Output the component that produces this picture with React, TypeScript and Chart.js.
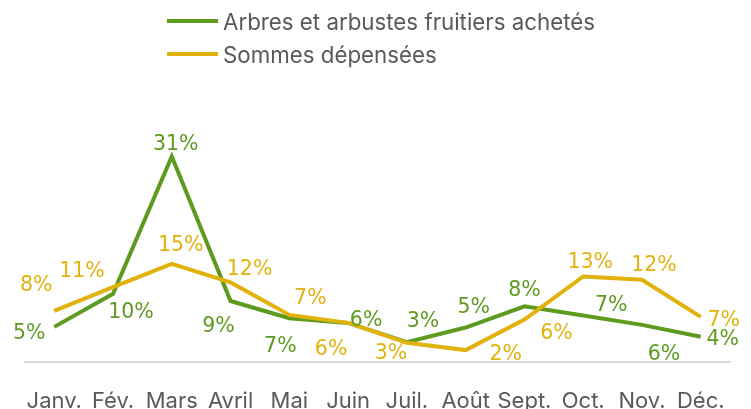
import React, { useEffect, useRef } from "react";
import { Chart, registerables } from "chart.js";

Chart.register(...registerables);

const months = ["Janv.", "Fév.", "Mars", "Avril", "Mai", "Juin", "Juil.", "Août", "Sept.", "Oct.", "Nov.", "Déc."];
const arbres = [5.3, 10.3, 31.0, 9.2, 6.6, 5.9, 3.0, 5.2, 8.4, 7.0, 5.6, 3.8];
const sommes = [7.7, 11.3, 14.8, 12.0, 7.1, 5.9, 2.9, 1.8, 6.4, 12.9, 12.4, 6.8];

const seriesNames = ["Arbres et arbustes fruitiers achetés", "Sommes dépensées"];

const GREEN = "#5E9A1E";
const YELLOW = "#E1B20C";
const GREY_TEXT = "#595959";
const FONT = "Inter, 'Open Sans', sans-serif";
const LABEL_FONT = "'DejaVu Sans', Inter, sans-serif";

// label placement (offsets from each point, in px)
const arbresLabelOffsets = [[-25, 5], [18, 17], [4, -14], [-12, 24], [-9, 26], [18, -4], [16, -22], [8, -22], [0, -18], [28, -12], [22, 28], [22, 1]];
const sommesLabelOffsets = [[-18, -27], [-31, -17], [9, -20], [19, -15], [21, -18], [-17, 25], [-16, 9], [40, 3], [32, 12], [7, -16], [12, -16], [23, 2]];

const LABEL_SIZE = 20.5;

const labelPlugin = {
  id: "pointLabels",
  afterDatasetsDraw(chart: any) {
    const ctx = chart.ctx;
    ctx.save();
    ctx.font = `${LABEL_SIZE}px ${LABEL_FONT}`;
    ctx.textAlign = "center";
    ctx.textBaseline = "alphabetic";
    chart.data.datasets.forEach((ds: any, di: number) => {
      const meta = chart.getDatasetMeta(di);
      const offs = ds.labelOffsets as number[][];
      meta.data.forEach((el: any, i: number) => {
        const v = ds.data[i];
        const [dx, dy] = offs[i];
        ctx.fillStyle = ds.borderColor;
        ctx.fillText(`${Math.round(v)}%`, el.x + dx, el.y + dy + LABEL_SIZE * 0.36);
      });
    });
    ctx.restore();
  },
};

export default function App() {
  const ref = useRef<HTMLCanvasElement | null>(null);
  useEffect(() => {
    if (!ref.current) return;
    const chart = new Chart(ref.current, {
      type: "line",
      data: {
        labels: months,
        datasets: [
          {
            label: seriesNames[0],
            data: arbres,
            borderColor: GREEN,
            backgroundColor: GREEN,
            borderWidth: 4,
            pointRadius: 0,
            tension: 0,
            order: 1,
            labelOffsets: arbresLabelOffsets,
          } as any,
          {
            label: seriesNames[1],
            data: sommes,
            borderColor: YELLOW,
            backgroundColor: YELLOW,
            borderWidth: 4,
            pointRadius: 0,
            tension: 0,
            order: 0,
            labelOffsets: sommesLabelOffsets,
          } as any,
        ],
      },
      options: {
        responsive: false,
        animation: false,
        devicePixelRatio: 1,
        layout: { padding: { top: 130, left: 23, right: 12, bottom: 0 } },
        plugins: { legend: { display: false }, tooltip: { enabled: false } },
        scales: {
          x: {
            offset: true,
            grid: { display: false, drawTicks: false },
            border: { display: true, color: "#D9D9D9", width: 2 },
            ticks: {
              color: GREY_TEXT,
              font: { family: FONT, size: 22 },
              padding: 26,
              maxRotation: 0,
              autoSkip: false,
            },
            afterFit: (s: any) => {
              s.height = 420 - 362;
            },
          },
          y: {
            display: false,
            min: 0,
            max: 35,
          },
        },
      },
      plugins: [labelPlugin],
    });
    return () => chart.destroy();
  }, []);

  const legendRows = [
    { name: seriesNames[0], color: GREEN, y: 21 },
    { name: seriesNames[1], color: YELLOW, y: 54 },
  ];

  return (
    <div style={{ position: "absolute", left: 0, top: 0, width: 751, height: 409, overflow: "hidden", background: "#fff" }}>
      <canvas ref={ref} width={751} height={420} style={{ display: "block" }} />
      {legendRows.map((r) => (
        <div
          key={r.name}
          style={{
            position: "absolute",
            left: 167,
            top: r.y - 15,
            height: 30,
            display: "flex",
            alignItems: "center",
            fontFamily: FONT,
            fontSize: 22.3,
            color: GREY_TEXT,
            whiteSpace: "nowrap",
          }}
        >
          <span style={{ display: "inline-block", width: 51, height: 4, background: r.color, marginRight: 5 }} />
          <span>{r.name}</span>
        </div>
      ))}
    </div>
  );
}
